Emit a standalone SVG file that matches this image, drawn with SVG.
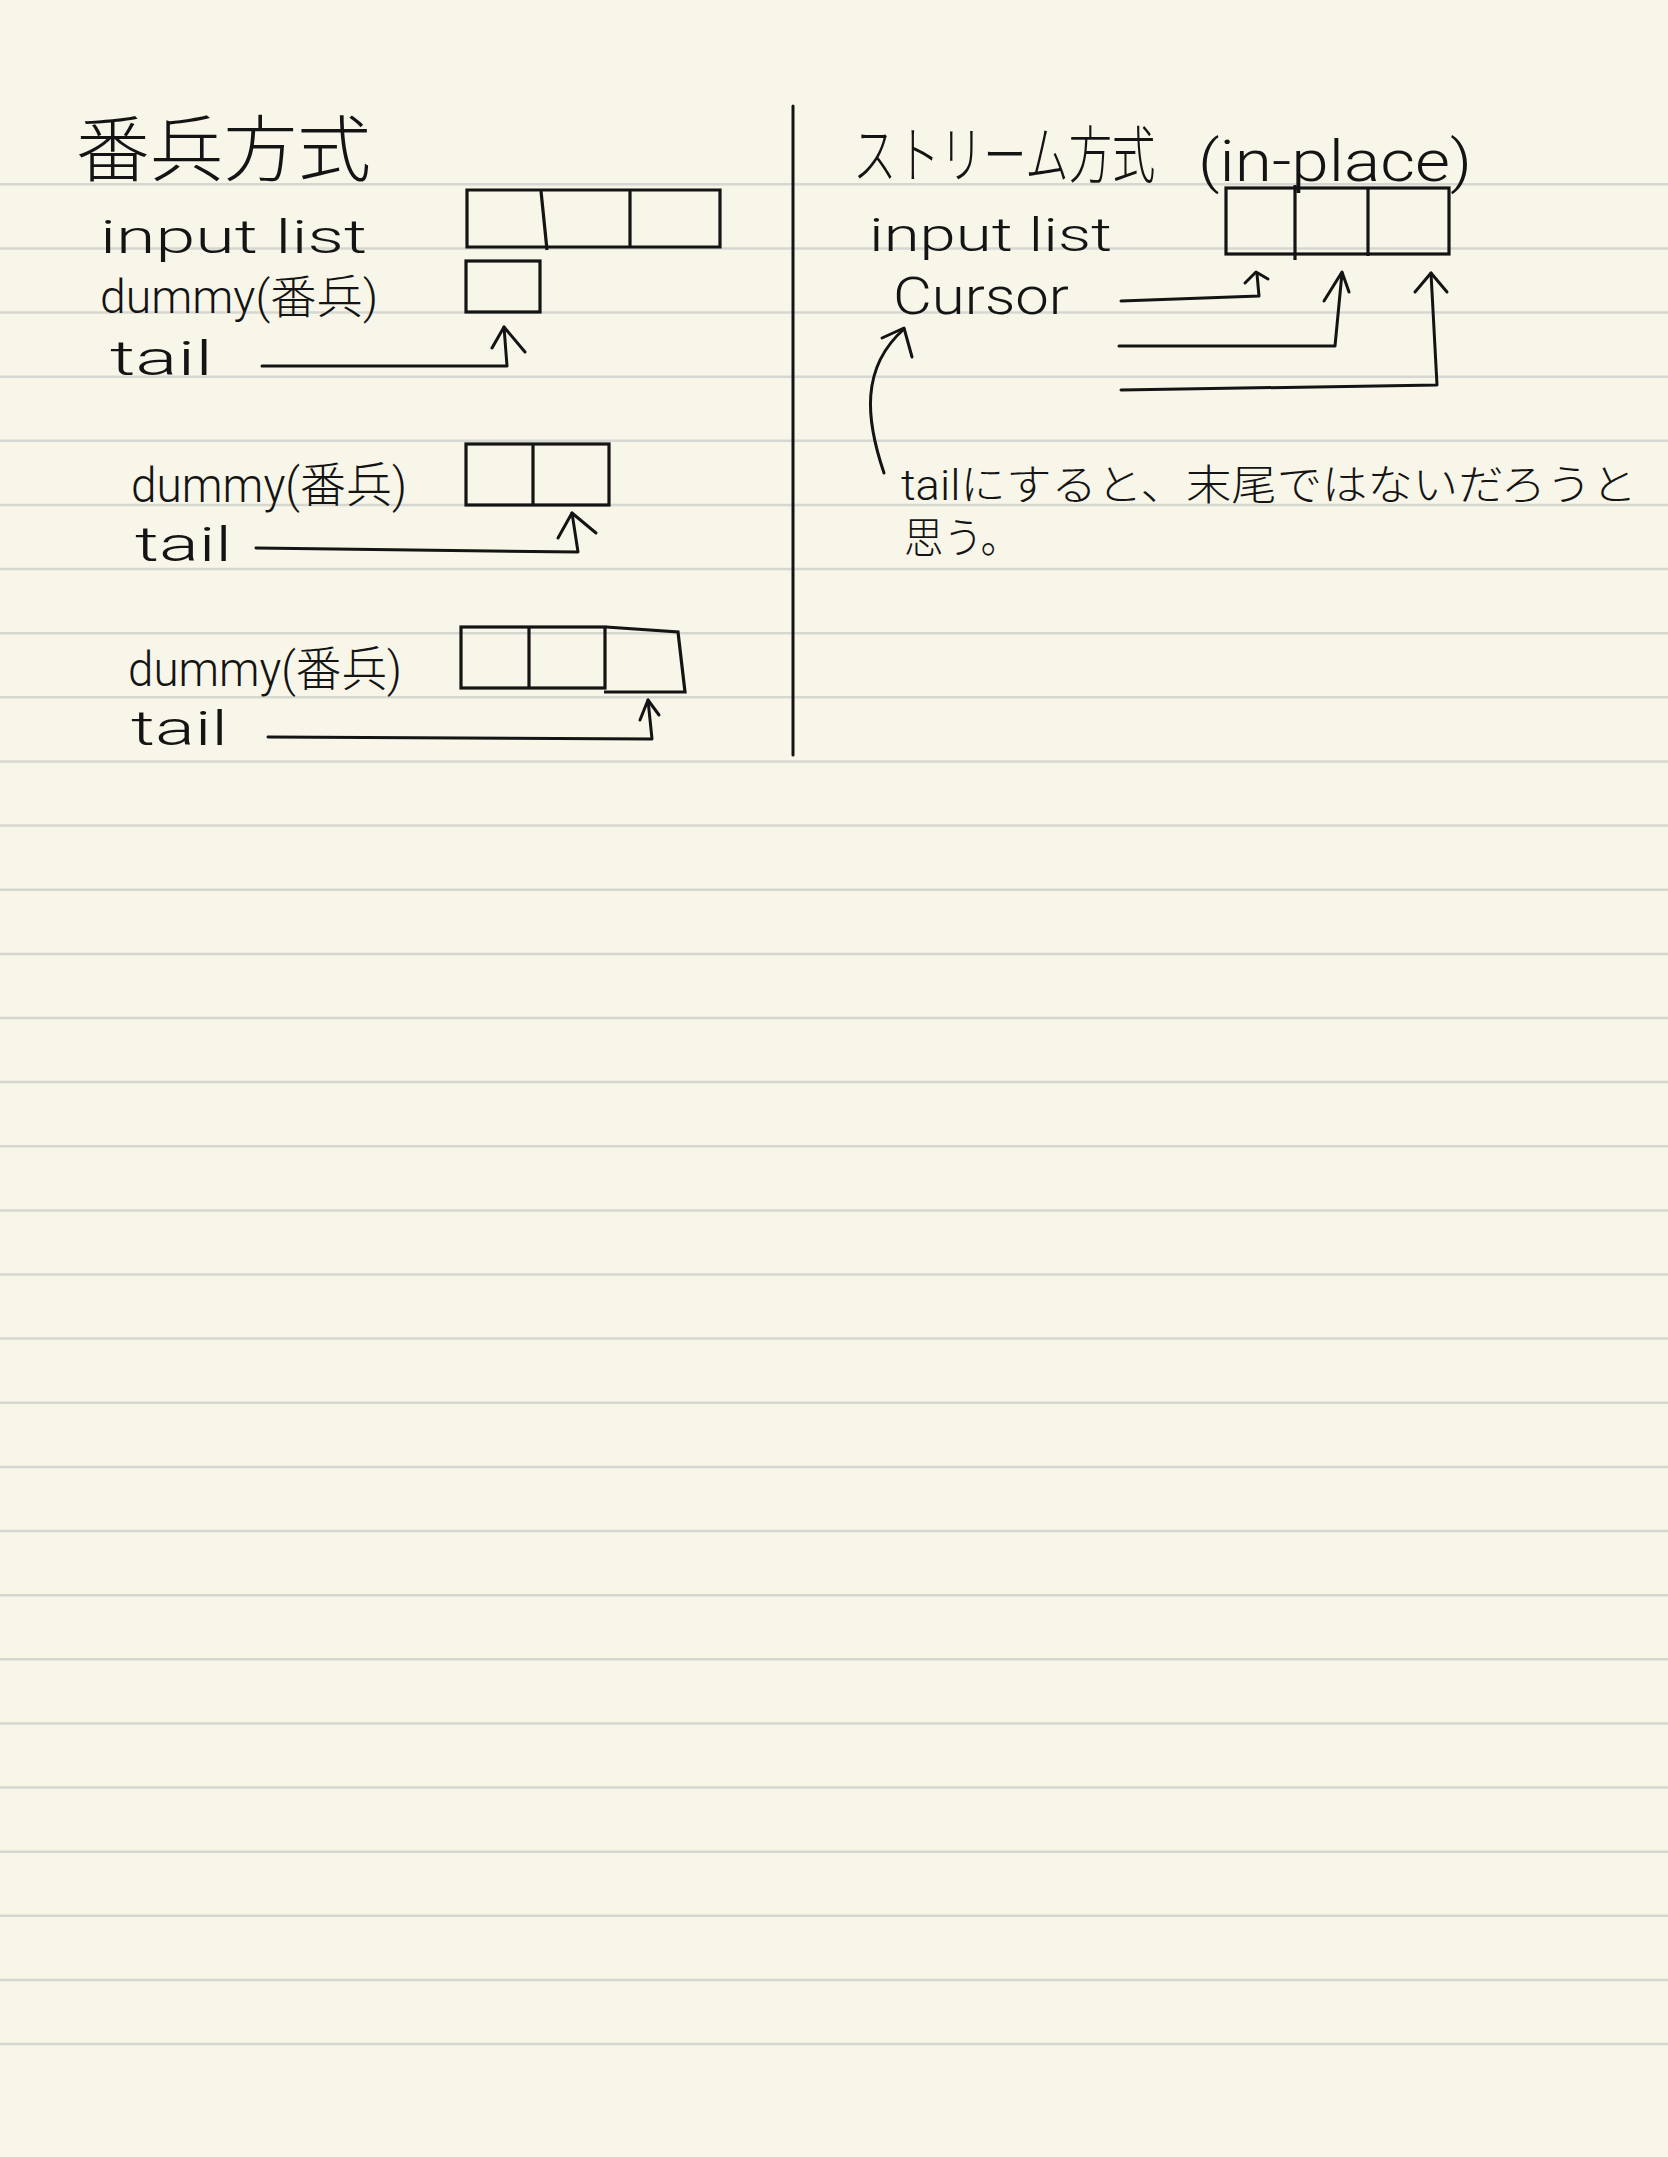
<svg xmlns="http://www.w3.org/2000/svg" width="1668" height="2157" viewBox="0 0 1668 2157">
<style>
.rule{stroke:#d7d7d2;stroke-width:2.5;fill:none}
.ink{stroke:#141414;stroke-width:3;fill:none;stroke-linecap:round;stroke-linejoin:round}
.box{stroke:#141414;stroke-width:3.2;fill:none;stroke-linejoin:miter}
.t{font-family:Roboto,"Noto Sans CJK JP",sans-serif;font-weight:300;fill:#141414}
.j{font-family:"Noto Sans CJK JP",sans-serif;font-weight:300;fill:#141414}
</style>
<rect x="0" y="0" width="1668" height="2157" fill="#f8f6e9"/>
<g id="rules">
<line class="rule" x1="0" y1="184.3" x2="1668" y2="184.3"/>
<line class="rule" x1="0" y1="248.4" x2="1668" y2="248.4"/>
<line class="rule" x1="0" y1="312.6" x2="1668" y2="312.6"/>
<line class="rule" x1="0" y1="376.7" x2="1668" y2="376.7"/>
<line class="rule" x1="0" y1="440.8" x2="1668" y2="440.8"/>
<line class="rule" x1="0" y1="504.9" x2="1668" y2="504.9"/>
<line class="rule" x1="0" y1="569.1" x2="1668" y2="569.1"/>
<line class="rule" x1="0" y1="633.2" x2="1668" y2="633.2"/>
<line class="rule" x1="0" y1="697.3" x2="1668" y2="697.3"/>
<line class="rule" x1="0" y1="761.5" x2="1668" y2="761.5"/>
<line class="rule" x1="0" y1="825.6" x2="1668" y2="825.6"/>
<line class="rule" x1="0" y1="889.7" x2="1668" y2="889.7"/>
<line class="rule" x1="0" y1="953.9" x2="1668" y2="953.9"/>
<line class="rule" x1="0" y1="1018.0" x2="1668" y2="1018.0"/>
<line class="rule" x1="0" y1="1082.1" x2="1668" y2="1082.1"/>
<line class="rule" x1="0" y1="1146.3" x2="1668" y2="1146.3"/>
<line class="rule" x1="0" y1="1210.4" x2="1668" y2="1210.4"/>
<line class="rule" x1="0" y1="1274.5" x2="1668" y2="1274.5"/>
<line class="rule" x1="0" y1="1338.6" x2="1668" y2="1338.6"/>
<line class="rule" x1="0" y1="1402.8" x2="1668" y2="1402.8"/>
<line class="rule" x1="0" y1="1466.9" x2="1668" y2="1466.9"/>
<line class="rule" x1="0" y1="1531.0" x2="1668" y2="1531.0"/>
<line class="rule" x1="0" y1="1595.2" x2="1668" y2="1595.2"/>
<line class="rule" x1="0" y1="1659.3" x2="1668" y2="1659.3"/>
<line class="rule" x1="0" y1="1723.4" x2="1668" y2="1723.4"/>
<line class="rule" x1="0" y1="1787.6" x2="1668" y2="1787.6"/>
<line class="rule" x1="0" y1="1851.7" x2="1668" y2="1851.7"/>
<line class="rule" x1="0" y1="1915.8" x2="1668" y2="1915.8"/>
<line class="rule" x1="0" y1="1979.9" x2="1668" y2="1979.9"/>
<line class="rule" x1="0" y1="2044.1" x2="1668" y2="2044.1"/>
</g>
<g id="divider">
<line class="ink" x1="793" y1="106" x2="793" y2="755" stroke-width="2.6"/>
</g>
<g id="left-title">
<text class="j" x="76" y="175" font-size="72" textLength="295" lengthAdjust="spacingAndGlyphs">番兵方式</text>
</g>
<g id="left-input-label">
<text class="t" x="100" y="253" font-size="46" textLength="267" lengthAdjust="spacingAndGlyphs">input list</text>
</g>
<g id="left-input-list">
<path class="box" d="M467 190 H720 V247 H467 Z"/>
<path class="box" d="M541 191 L547 250"/>
<path class="box" d="M630 190 V247"/>
</g>
<g id="dummy1-label">
<text class="t" x="100" y="313" font-size="46" textLength="278" lengthAdjust="spacingAndGlyphs">dummy(番兵)</text>
</g>
<g id="dummy1-box">
<rect class="box" x="466" y="261" width="74" height="51"/>
</g>
<g id="tail1-label">
<text class="t" x="110" y="375" font-size="48" textLength="103" lengthAdjust="spacingAndGlyphs">tail</text>
</g>
<g id="dummy2-label">
<text class="t" x="131" y="502" font-size="48" textLength="276" lengthAdjust="spacingAndGlyphs">dummy(番兵)</text>
</g>
<g id="dummy2-box">
<rect class="box" x="466" y="444" width="143" height="61"/>
<path class="box" d="M533 444 V505"/>
</g>
<g id="tail2-label">
<text class="t" x="135" y="561" font-size="48" textLength="97" lengthAdjust="spacingAndGlyphs">tail</text>
</g>
<g id="dummy3-label">
<text class="t" x="128" y="686" font-size="48" textLength="274" lengthAdjust="spacingAndGlyphs">dummy(番兵)</text>
</g>
<g id="dummy3-box">
<rect class="box" x="461" y="627" width="144" height="61"/>
<path class="box" d="M529 627 V688"/>
<path class="box" d="M606 627 L678 632 L685 692 L604 692"/>
</g>
<g id="tail3-label">
<text class="t" x="131" y="745" font-size="48" textLength="97" lengthAdjust="spacingAndGlyphs">tail</text>
</g>
<g id="right-title">
<text class="j" transform="translate(853 178) scale(0.7 1)" x="0" y="0" font-size="62">ストリーム方式</text>
<text class="t" x="1198" y="181" font-size="58" textLength="274" lengthAdjust="spacingAndGlyphs">(in-place)</text>
</g>
<g id="right-input-label">
<text class="t" x="869" y="251" font-size="46" textLength="243" lengthAdjust="spacingAndGlyphs">input list</text>
</g>
<g id="right-input-list">
<rect class="box" x="1226" y="188" width="223" height="66"/>
<path class="box" d="M1295 185 V260"/>
<path class="box" d="M1368 188 V256"/>
</g>
<g id="cursor-label">
<text class="t" x="893" y="314" font-size="52" textLength="176" lengthAdjust="spacingAndGlyphs">Cursor</text>
</g>
<g id="note">
<text class="t" x="901" y="500" font-size="42" textLength="736" lengthAdjust="spacingAndGlyphs">tailにすると、末尾ではないだろうと</text>
<text class="t" x="904" y="553" font-size="42" textLength="116" lengthAdjust="spacingAndGlyphs">思う。</text>
</g>
<g id="connectors">
<path class="ink" d="M262 366 L507 366 L504 327"/>
<path class="ink" d="M492 348 L504 327 L525 352"/>
<path class="ink" d="M256 548 L578 552 L572 513"/>
<path class="ink" d="M558 538 L572 513 L596 533"/>
<path class="ink" d="M268 737 L652 739 L648 700"/>
<path class="ink" d="M640 720 L648 700 L659 715"/>
<path class="ink" d="M1121 301 L1259 296 L1257 274"/>
<path class="ink" d="M1245 283 L1256 272 L1268 279"/>
<path class="ink" d="M1119 346 L1335 346 L1342 273"/>
<path class="ink" d="M1324 301 L1342 272 L1349 292"/>
<path class="ink" d="M1121 390 L1437 385 L1431 273"/>
<path class="ink" d="M1415 292 L1431 273 L1447 292"/>
<path class="ink" d="M884 473 C866 420 860 368 904 329"/>
<path class="ink" d="M882 338 L904 328 L912 357"/>
</g>
</svg>
